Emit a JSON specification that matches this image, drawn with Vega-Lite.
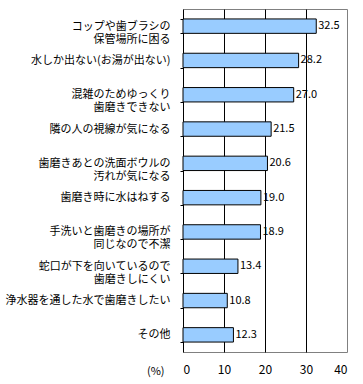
{
  "$schema": "https://vega.github.io/schema/vega-lite/v6.json",
  "width": 164,
  "height": 343,
  "autosize": "none",
  "padding": {"left": 183, "top": 9, "right": 16, "bottom": 32},
  "background": "white",
  "config": {
    "view": {"stroke": "#808080", "strokeWidth": 1},
    "font": "Noto Sans CJK JP",
    "text": {"font": "Noto Sans CJK JP"}
  },
  "data": {
    "values": [
      {"item": "コップや歯ブラシの\n保管場所に困る", "value": 32.5},
      {"item": "水しか出ない(お湯が出ない)", "value": 28.2},
      {"item": "混雑のためゆっくり\n歯磨きできない", "value": 27.0},
      {"item": "隣の人の視線が気になる", "value": 21.5},
      {"item": "歯磨きあとの洗面ボウルの\n汚れが気になる", "value": 20.6},
      {"item": "歯磨き時に水はねする", "value": 19.0},
      {"item": "手洗いと歯磨きの場所が\n同じなので不潔", "value": 18.9},
      {"item": "蛇口が下を向いているので\n歯磨きしにくい", "value": 13.4},
      {"item": "浄水器を通した水で歯磨きしたい", "value": 10.8},
      {"item": "その他", "value": 12.3}
    ]
  },
  "encoding": {
    "y": {
      "field": "item",
      "type": "nominal",
      "sort": null,
      "scale": {"paddingInner": 0.58, "paddingOuter": 0.29},
      "axis": {
        "title": null,
        "labelExpr": "split(datum.label, '\\n')",
        "labelFont": "Noto Sans CJK JP",
        "labelFontSize": 11,
        "labelColor": "black",
        "labelLineHeight": 13,
        "labelPadding": 10,
        "labelLimit": 200,
        "tickBand": "extent",
        "tickSize": 3,
        "tickColor": "black",
        "domainColor": "black",
        "grid": false
      }
    },
    "x": {
      "field": "value",
      "type": "quantitative",
      "scale": {"domain": [0, 40], "nice": false},
      "axis": {
        "values": [0, 10, 20, 30, 40],
        "title": "(%)",
        "titleFont": "Noto Sans CJK JP",
        "titleFontSize": 11,
        "titleFontWeight": "normal",
        "titleColor": "black",
        "titleX": -19,
        "titleY": 19,
        "titleAlign": "right",
        "titleBaseline": "middle",
        "labelFont": "Noto Sans CJK JP",
        "labelFontSize": 12,
        "labelColor": "black",
        "labelPadding": 12,
        "ticks": false,
        "domain": false,
        "grid": true,
        "gridColor": {"condition": {"test": "datum.value == 40 || datum.value == 0", "value": "transparent"}, "value": "black"},
        "gridOpacity": 1
      }
    }
  },
  "layer": [
    {"mark": {"type": "bar", "fill": "#99CCFF", "stroke": "black", "strokeWidth": 1}},
    {
      "mark": {"type": "text", "align": "left", "baseline": "middle", "dx": 2, "fontSize": 11, "color": "black"},
      "encoding": {"text": {"field": "value", "type": "quantitative", "format": ".1f"}}
    }
  ]
}
